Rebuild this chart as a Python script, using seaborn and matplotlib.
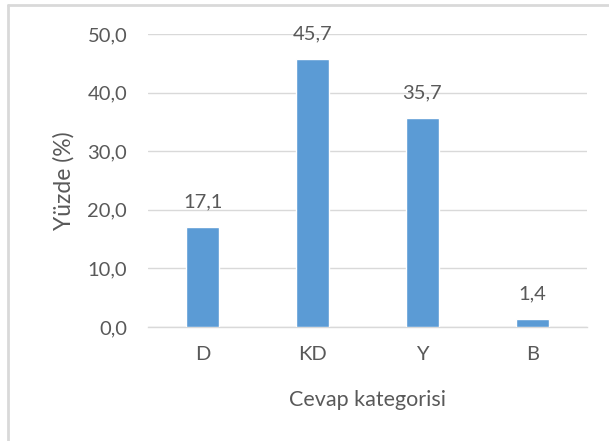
import matplotlib
matplotlib.use("Agg")
import matplotlib.pyplot as plt
import seaborn as sns
import pandas as pd
from matplotlib.ticker import FuncFormatter, MultipleLocator
from matplotlib.lines import Line2D

categories = ["D", "KD", "Y", "B"]
values = [17.1, 45.7, 35.7, 1.4]
x_label = "Cevap kategorisi"
y_label = "Yüzde (%)"

sns.set_theme(style="white")
plt.rcParams['font.family'] = ['Lato', 'DejaVu Sans']

text_color = "#595959"
grid_color = "#d9d9d9"
bar_color = "#5b9bd5"
fs = 14.5

df = pd.DataFrame({"cat": categories, "val": values})

fig = plt.figure(figsize=(6.09, 4.41), dpi=100)
ax = fig.add_axes([148/609, 1-327/441, (587-148)/609, (327-34)/441])

sns.barplot(data=df, x="cat", y="val", color=bar_color, width=0.3,
            saturation=1, ax=ax, zorder=3)

ax.set_ylim(0, 50)
ax.set_xlim(-0.5, len(categories)-0.5)
ax.yaxis.set_major_locator(MultipleLocator(10))
ax.yaxis.set_major_formatter(FuncFormatter(lambda v, p: f"{v:.1f}".replace(".", ",")))
ax.grid(axis="y", color=grid_color, linewidth=1.0, zorder=0)
ax.set_axisbelow(True)
for s in ["top", "right", "left"]:
    ax.spines[s].set_visible(False)
ax.spines["bottom"].set_color(grid_color)
ax.spines["bottom"].set_linewidth(1.0)

ax.tick_params(axis="both", length=0, labelsize=fs, labelcolor=text_color)
ax.tick_params(axis="y", pad=15)
ax.tick_params(axis="x", pad=14)

for i, v in enumerate(values):
    ax.text(i, v + 2.8, f"{v:.1f}".replace(".", ","), ha="center", va="bottom",
            fontsize=fs, color=text_color)

ax.set_xlabel(x_label, fontsize=15.5, color=text_color, labelpad=19)
ax.set_ylabel(y_label, fontsize=16.5, color=text_color, labelpad=9)

# outer chart border (top and left visible)
fig.add_artist(Line2D([8/609, 1], [1-5/441, 1-5/441], transform=fig.transFigure,
                      color=grid_color, linewidth=2))
fig.add_artist(Line2D([8/609, 8/609], [0, 1-5/441], transform=fig.transFigure,
                      color=grid_color, linewidth=2))

fig.savefig("out.png", dpi=100, facecolor="white")
